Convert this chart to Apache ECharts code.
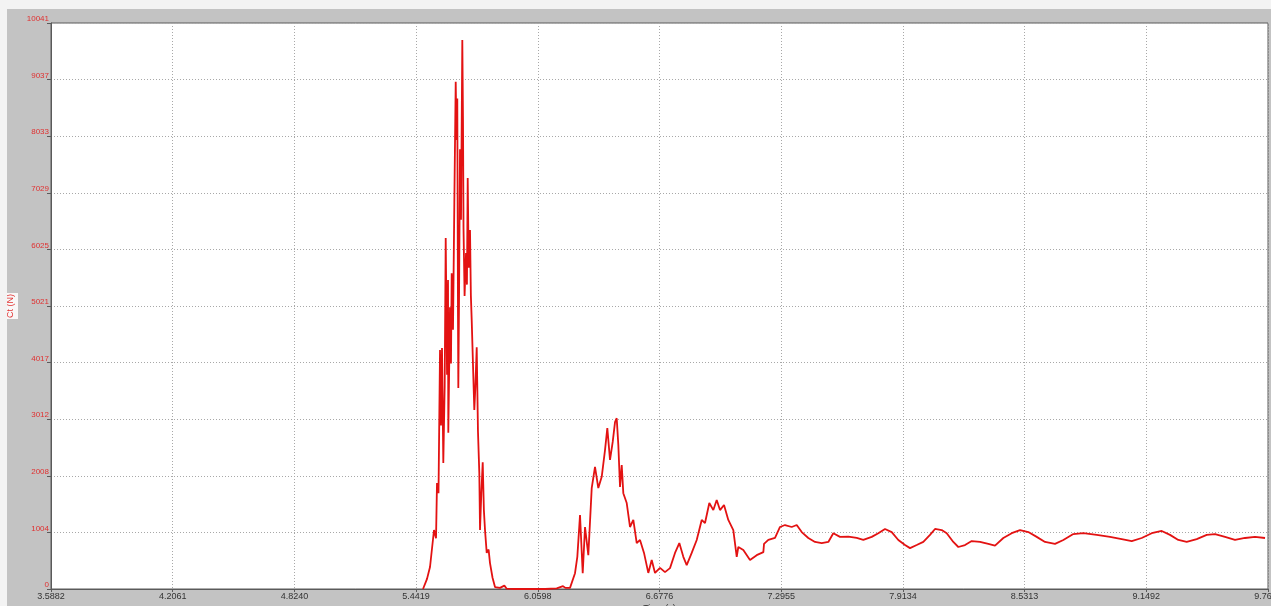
<!DOCTYPE html>
<html>
<head>
<meta charset="utf-8">
<script src="https://cdn.jsdelivr.net/npm/echarts@6/dist/echarts.min.js"></script>
<style>
  html, body { margin: 0; padding: 0; background: #f3f3f3; width: 1271px; height: 606px; overflow: hidden; }
  #frame { position: absolute; left: 7px; top: 9px; width: 1264px; height: 597px; background: #c3c3c3; }
  #chart { width: 1264px; height: 597px; }
</style>
</head>
<body>
<div id="frame"><div id="chart"></div></div>
<script>
// Time axis ticks (s) and their printed labels
const xTickValues = [3.5882, 4.2061, 4.8240, 5.4419, 6.0598, 6.6776, 7.2955, 7.9134, 8.5313, 9.1492, 9.7671];
const xTickLabels = ['3.5882', '4.2061', '4.8240', '5.4419', '6.0598', '6.6776', '7.2955', '7.9134', '8.5313', '9.1492', '9.7671'];

// Force axis ticks (N)
const yMax = 10041;
const yInterval = 1004.1;
const yTickLabels = ['0', '1004', '2008', '3012', '4017', '5021', '6025', '7029', '8033', '9037', '10041'];

// Cutting force record: time (s) and force Ct (N)
const timeS = [
  5.4770, 5.4973, 5.5125, 5.5226, 5.5328, 5.5430, 5.5480, 5.5556, 5.5633, 5.5683,
  5.5734, 5.5800, 5.5870, 5.5922, 5.5990, 5.6039, 5.6054, 5.6140, 5.6190, 5.6226,
  5.6292, 5.6360, 5.6430, 5.6455, 5.6480, 5.6510, 5.6546, 5.6562, 5.6600, 5.6648,
  5.6699, 5.6765, 5.6800, 5.6826, 5.6880, 5.6953, 5.7000, 5.7039, 5.7090, 5.7156,
  5.7200, 5.7242, 5.7374, 5.7430, 5.7496, 5.7560, 5.7628, 5.7664, 5.7730, 5.7801,
  5.7860, 5.7917, 5.8004, 5.8100, 5.8171, 5.8300, 5.8425, 5.8679, 5.8900, 5.9019,
  5.9441, 6.0202, 6.0964, 6.1558, 6.1878, 6.2000, 6.2233, 6.2487, 6.2604, 6.2741,
  6.2878, 6.2995, 6.3162, 6.3335, 6.3502, 6.3670, 6.3843, 6.4010, 6.4127, 6.4264,
  6.4401, 6.4518, 6.4604, 6.4686, 6.4772, 6.4858, 6.4939, 6.5112, 6.5279, 6.5447,
  6.5620, 6.5787, 6.5990, 6.6208, 6.6381, 6.6549, 6.6803, 6.7056, 6.7310, 6.7564,
  6.7783, 6.7986, 6.8158, 6.8412, 6.8666, 6.8920, 6.9087, 6.9306, 6.9509, 6.9681,
  6.9849, 7.0052, 7.0270, 7.0524, 7.0697, 7.0778, 7.1032, 7.1372, 7.1711, 7.2049,
  7.2083, 7.2301, 7.2641, 7.2895, 7.3149, 7.3489, 7.3743, 7.3997, 7.4332, 7.4672,
  7.5012, 7.5348, 7.5601, 7.5941, 7.6363, 7.6789, 7.7124, 7.7551, 7.7886, 7.8226,
  7.8566, 7.8902, 7.9242, 7.9496, 7.9835, 8.0171, 8.0511, 8.0765, 8.1105, 8.1359,
  8.1694, 8.1948, 8.2288, 8.2628, 8.3050, 8.3471, 8.3811, 8.4233, 8.4659, 8.5080,
  8.5502, 8.5928, 8.6350, 8.6857, 8.7279, 8.7787, 8.8295, 8.8975, 8.9650, 9.0244,
  9.0752, 9.1259, 9.1767, 9.2275, 9.2696, 9.3118, 9.3544, 9.4052, 9.4560, 9.4981,
  9.5489, 9.5996, 9.6504, 9.7012, 9.7520
];
const forceN = [
  0, 180, 390, 420, 1047, 900, 1880, 1700, 4240, 2900,
  4275, 2235, 3600, 6227, 3800, 5480, 2770, 5000, 4000, 5600,
  4600, 6850, 9000, 8400, 7965, 8700, 4825, 3565, 5200, 7800,
  6550, 9740, 8300, 6400, 5200, 5960, 5400, 7290, 5700, 6370,
  5200, 4770, 3175, 3600, 4290, 2800, 2060, 1047, 1700, 2250,
  1400, 1050, 640, 700, 460, 200, 35, 20, 60, 5,
  0, 0, 0, 10, 50, 20, 20, 280, 570, 1310,
  280, 1100, 600, 1790, 2165, 1790, 1990, 2465, 2855, 2290,
  2610, 2960, 3030, 2555, 1810, 2200, 1700, 1525, 1100, 1225,
  815, 870, 640, 285, 515, 285, 375, 300, 370, 640,
  815, 570, 425, 640, 870, 1225, 1170, 1525, 1400, 1580,
  1400, 1490, 1225, 1045, 570, 745, 690, 515, 600, 655,
  800, 870, 905, 1100, 1135, 1100, 1135, 1010, 905, 835,
  815, 835, 990, 925, 930, 905, 870, 925, 990, 1065,
  1010, 870, 780, 725, 780, 835, 960, 1065, 1045, 990,
  835, 745, 780, 850, 835, 800, 770, 905, 990, 1045,
  1010, 925, 835, 800, 870, 975, 990, 960, 925, 885,
  850, 905, 990, 1030, 960, 870, 835, 885, 960, 975,
  925, 870, 905, 925, 905
];

const series = timeS.map((t, i) => [t, forceN[i]]);

const chart = echarts.init(document.getElementById('chart'), null, { renderer: 'canvas' });
const labelFont = '"Liberation Sans Narrow", "Liberation Sans", Arial, sans-serif';

chart.setOption({
  backgroundColor: 'transparent',
  animation: false,
  grid: {
    left: 44, top: 14, right: 3, bottom: 17,
    outerBoundsMode: 'none',
    containLabel: false,
    show: true, backgroundColor: '#ffffff', borderColor: '#5a5a5a', borderWidth: 1
  },
  xAxis: {
    type: 'value',
    min: xTickValues[0],
    max: xTickValues[xTickValues.length - 1],
    name: 'Time (s)',
    nameLocation: 'middle',
    nameGap: 15,
    nameMoveOverlap: false,
    nameTextStyle: { color: '#333', fontSize: 9, fontFamily: labelFont, verticalAlign: 'top' },
    axisLine: { show: true, lineStyle: { color: '#5a5a5a', width: 1 } },
    axisTick: { show: true, length: 3, customValues: xTickValues, lineStyle: { color: '#5a5a5a' } },
    axisLabel: {
      customValues: xTickValues,
      color: '#333', fontSize: 9, fontFamily: labelFont, margin: 3,
      hideOverlap: false,
      formatter: v => {
        const i = xTickValues.findIndex(x => Math.abs(x - v) < 1e-6);
        return i >= 0 ? xTickLabels[i] : '';
      }
    },
    splitLine: { show: true, lineStyle: { color: '#a8a8a8', type: [1, 2], width: 1 } }
  },
  yAxis: {
    type: 'value',
    min: 0,
    max: yMax,
    interval: yInterval,
    name: 'Ct (N)',
    nameLocation: 'middle',
    nameGap: 33,
    nameMoveOverlap: false,
    nameTextStyle: { color: '#e03030', fontSize: 9, fontFamily: labelFont, backgroundColor: '#f8f8f8', padding: [3, 1, 3, 1] },
    axisLine: { show: true, lineStyle: { color: '#5a5a5a', width: 1 } },
    axisTick: { show: true, length: 4, lineStyle: { color: '#5a5a5a' } },
    axisLabel: {
      color: '#e03030', fontSize: 8, fontFamily: labelFont, margin: 2,
      verticalAlign: 'bottom',
      formatter: v => yTickLabels[Math.round(v / yInterval)] || ''
    },
    splitLine: { show: true, lineStyle: { color: '#a8a8a8', type: [1, 2], width: 1 } }
  },
  series: [{
    type: 'line',
    data: series,
    showSymbol: false,
    smooth: false,
    clip: true,
    lineStyle: { color: '#e31212', width: 1.8 }
  }]
});
</script>
</body>
</html>
